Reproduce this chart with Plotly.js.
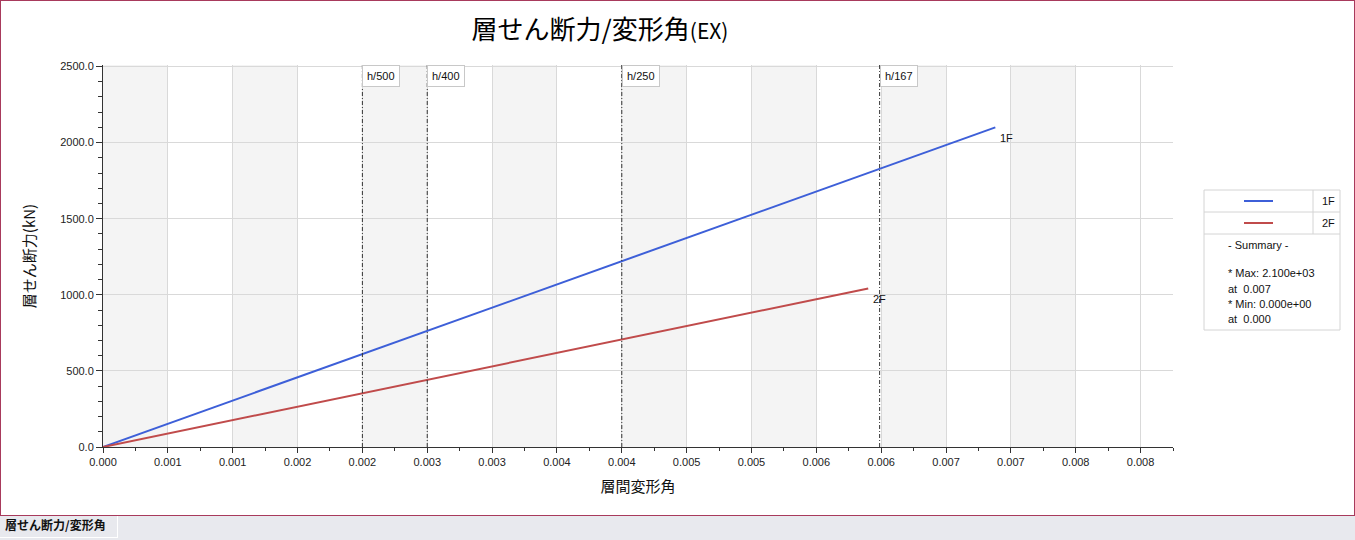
<!DOCTYPE html>
<html>
<head>
<meta charset="utf-8">
<script src="https://cdn.plot.ly/plotly-3.0.1.min.js"></script>
<style>
  body { margin: 0; background: #fff; }
  #frame { position: relative; width: 1355px; height: 516px; box-sizing: border-box; border: 1px solid #a83a5c; }
  #chart { width: 1353px; height: 514px; }
  #tabs { width: 1355px; height: 24px; background: #e8e9ee; position: relative; }
  #tab { position: absolute; left: 0; top: 0; width: 118px; height: 22px; border-right: 1px solid #fff; border-bottom: 1px solid #fff;
         font: bold 12px "Noto Sans CJK JP", sans-serif; line-height: 18px; padding-left: 5px; box-sizing: border-box; color: #111; }
</style>
</head>
<body>
<div id="frame"><div id="chart"></div></div>
<div id="tabs"><div id="tab">層せん断力/変形角</div></div>
<script>
// series
var series = ['1F', '2F'];
var driftX = [
  [0, 0.00688],
  [0, 0.00590]
];
var shearY = [
  [0, 2100],
  [0, 1042]
];
var seriesColors = ['#3d5fd8', '#c04b4b'];

// limit lines h/500 ... h/167
var limitDenoms = [500, 400, 250, 167];

var xTickVals = [0, 0.0005, 0.001, 0.0015, 0.002, 0.0025, 0.003, 0.0035, 0.004,
                 0.0045, 0.005, 0.0055, 0.006, 0.0065, 0.007, 0.0075, 0.008];
var xTickText = ['0.000', '0.001', '0.001', '0.002', '0.002', '0.003', '0.003', '0.004', '0.004',
                 '0.005', '0.005', '0.006', '0.006', '0.007', '0.007', '0.008', '0.008'];

var tickFont = { family: '"Liberation Sans", Arial, sans-serif', size: 11, color: '#222' };
var cjk = '"Noto Sans CJK JP", sans-serif';

// page px -> paper coords (plot area 103..1173 x 65..447 on the page)
function px(x) { return (x - 103) / 1070; }
function py(y) { return (447 - y) / 382; }

var traces = [];
var annotations = [];
for (var s = 0; s < series.length; s++) {
  var n = driftX[s].length;
  traces.push({
    x: driftX[s],
    y: shearY[s],
    name: series[s],
    mode: 'lines',
    line: { color: seriesColors[s], width: 2 },
    hoverinfo: 'x+y+name'
  });
  // end label
  annotations.push({ xref: 'x', yref: 'y', x: driftX[s][n - 1], y: shearY[s][n - 1],
    xanchor: 'left', yanchor: 'top', xshift: 3, yshift: -3, showarrow: false, text: series[s],
    font: { family: tickFont.family, size: 11, color: '#111' } });
}

var shapes = [];
// alternating shaded columns
for (var k = 0; k < xTickVals.length - 1; k += 2) {
  shapes.push({ type: 'rect', layer: 'below', xref: 'x', yref: 'paper',
    x0: xTickVals[k], x1: xTickVals[k + 1], y0: 0, y1: 1,
    fillcolor: '#f4f4f4', line: { width: 0 } });
}
limitDenoms.forEach(function(d) {
  shapes.push({ type: 'line', xref: 'x', yref: 'paper', x0: 1 / d, x1: 1 / d, y0: 0, y1: 1,
    line: { color: '#333', width: 1, dash: '4px,2px,1px,2px' } });
  annotations.push({ xref: 'x', yref: 'paper', x: 1 / d, y: 1, xanchor: 'left', yanchor: 'top',
    text: 'h/' + d, showarrow: false, bgcolor: '#fff', bordercolor: '#c8c8c8', borderwidth: 1,
    borderpad: 4, font: { family: tickFont.family, size: 11, color: '#111' } });
});

// legend table
shapes.push({ type: 'rect', xref: 'paper', yref: 'paper', x0: px(1204), x1: px(1340), y0: py(190), y1: py(330),
  fillcolor: '#fff', line: { color: '#d4d4d4', width: 1 } });
shapes.push({ type: 'line', xref: 'paper', yref: 'paper', x0: px(1204), x1: px(1340), y0: py(212), y1: py(212), line: { color: '#d4d4d4', width: 1 } });
shapes.push({ type: 'line', xref: 'paper', yref: 'paper', x0: px(1204), x1: px(1340), y0: py(234), y1: py(234), line: { color: '#d4d4d4', width: 1 } });
shapes.push({ type: 'line', xref: 'paper', yref: 'paper', x0: px(1313), x1: px(1313), y0: py(190), y1: py(234), line: { color: '#d4d4d4', width: 1 } });
for (var s = 0; s < series.length; s++) {
  var ry = 201 + 22 * s;
  shapes.push({ type: 'line', xref: 'paper', yref: 'paper', x0: px(1244), x1: px(1273), y0: py(ry), y1: py(ry),
    line: { color: seriesColors[s], width: 2 } });
  annotations.push({ xref: 'paper', yref: 'paper', x: px(1320), y: py(ry), xanchor: 'left', yanchor: 'middle',
    text: series[s], showarrow: false, font: { family: tickFont.family, size: 11, color: '#111' } });
}

// summary from the data
var maxV = -Infinity, maxAt = 0, minV = Infinity, minAt = 0;
for (var s = 0; s < series.length; s++) {
  for (var k = 0; k < shearY[s].length; k++) {
    if (shearY[s][k] > maxV) { maxV = shearY[s][k]; maxAt = driftX[s][k]; }
    if (shearY[s][k] < minV) { minV = shearY[s][k]; minAt = driftX[s][k]; }
  }
}
function sci(v) {
  var t = v.toExponential(3).split('e');
  var e = parseInt(t[1], 10);
  return t[0] + 'e' + (e < 0 ? '-' : '+') + (Math.abs(e) < 10 ? '0' : '') + Math.abs(e);
}
var summary = ['- Summary -', ' ', '* Max: ' + sci(maxV), 'at  ' + maxAt.toFixed(3),
               '* Min: ' + sci(minV), 'at  ' + minAt.toFixed(3)];
var summaryY = [245, 258, 273, 289, 304, 319];
summary.forEach(function(line, i) {
  annotations.push({ xref: 'paper', yref: 'paper', x: px(1226), y: py(summaryY[i]),
    xanchor: 'left', yanchor: 'middle', text: line, showarrow: false,
    font: { family: tickFont.family, size: 11, color: '#111' } });
});

var layout = {
  width: 1353,
  height: 514,
  margin: { l: 102, r: 181, t: 64, b: 68, pad: 0 },
  paper_bgcolor: '#fff',
  plot_bgcolor: '#fff',
  showlegend: false,
  title: {
    text: '層せん断力/変形角<span style="font-size:21px">(EX)</span>',
    font: { family: cjk, size: 26, color: '#000' },
    xref: 'container', x: 599 / 1353, xanchor: 'center',
    yref: 'container', y: 1 - 29 / 514, yanchor: 'middle'
  },
  xaxis: {
    range: [0, 0.00825],
    tickmode: 'array', tickvals: xTickVals, ticktext: xTickText,
    tickfont: tickFont,
    ticks: 'outside', ticklen: 5, tickcolor: '#333', tickwidth: 1,
    minor: { dtick: 0.00025, tick0: 0, ticks: 'outside', ticklen: 3, tickcolor: '#333', showgrid: false },
    showline: true, linecolor: '#333', linewidth: 1,
    showgrid: true, gridcolor: '#d9d9d9', gridwidth: 1,
    zeroline: false,
    title: { text: '層間変形角', font: { family: cjk, size: 15, color: '#111' }, standoff: 14 }
  },
  yaxis: {
    range: [0, 2510],
    dtick: 500, tick0: 0, tickformat: '.1f',
    tickfont: tickFont,
    ticks: 'outside', ticklen: 6, tickcolor: '#333', tickwidth: 1,
    minor: { dtick: 100, tick0: 0, ticks: 'outside', ticklen: 4, tickcolor: '#333', showgrid: false },
    showline: true, linecolor: '#333', linewidth: 1,
    showgrid: true, gridcolor: '#d9d9d9', gridwidth: 1,
    zeroline: false,
    title: { text: '層せん断力(kN)', font: { family: cjk, size: 15, color: '#111' }, standoff: 20 }
  },
  // inside halves of the crossing ticks
  xaxis2: {
    overlaying: 'x', anchor: 'y2', range: [0, 0.00825], side: 'bottom',
    tickmode: 'array', tickvals: xTickVals, showticklabels: false,
    ticks: 'inside', ticklen: 5, tickcolor: '#333',
    minor: { dtick: 0.00025, tick0: 0, ticks: 'inside', ticklen: 3, tickcolor: '#333', showgrid: false },
    showgrid: false, zeroline: false, showline: false
  },
  yaxis2: {
    overlaying: 'y', anchor: 'x2', range: [0, 2510], side: 'left',
    dtick: 500, tick0: 0, showticklabels: false,
    ticks: 'inside', ticklen: 6, tickcolor: '#333',
    minor: { dtick: 100, tick0: 0, ticks: 'inside', ticklen: 4, tickcolor: '#333', showgrid: false },
    showgrid: false, zeroline: false, showline: false
  },
  shapes: shapes,
  annotations: annotations
};

Plotly.newPlot('chart', traces, layout, { displayModeBar: false, staticPlot: true });
</script>
</body>
</html>
